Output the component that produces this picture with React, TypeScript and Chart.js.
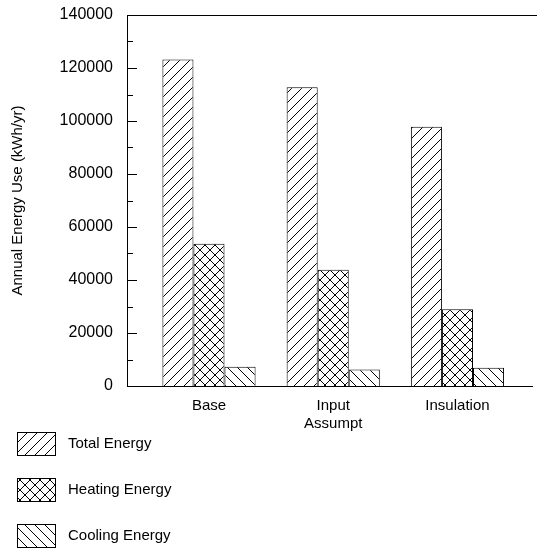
import React, { useEffect, useRef } from "react";
import { Chart, registerables } from "chart.js";

Chart.register(...registerables);

const categories: (string | string[])[] = ["Base", ["Input", "Assumpt"], "Insulation"];
const seriesNames = ["Total Energy", "Heating Energy", "Cooling Energy"];
const totalEnergy = [123200, 112700, 97800];
const heatingEnergy = [53700, 43900, 29000];
const coolingEnergy = [7300, 6200, 6900];
const yTicks = [0, 20000, 40000, 60000, 80000, 100000, 120000, 140000];
const yMinorStep = 10000;

const FONT = "'Liberation Sans', Arial, sans-serif";

type Kind = "fwd" | "cross" | "back";

function makePattern(ctx: CanvasRenderingContext2D, kind: Kind): CanvasPattern {
  const s = 10;
  const c = document.createElement("canvas");
  c.width = s;
  c.height = s;
  const g = c.getContext("2d")!;
  g.fillStyle = "#fff";
  g.fillRect(0, 0, s, s);
  g.strokeStyle = "#000";
  g.lineWidth = 1;
  const fwd = () => {
    g.beginPath();
    g.moveTo(-1, s + 1);
    g.lineTo(s + 1, -1);
    g.moveTo(-1, 1);
    g.lineTo(1, -1);
    g.moveTo(s - 1, s + 1);
    g.lineTo(s + 1, s - 1);
    g.stroke();
  };
  const back = () => {
    g.beginPath();
    g.moveTo(-1, -1);
    g.lineTo(s + 1, s + 1);
    g.moveTo(s - 1, -1);
    g.lineTo(s + 1, 1);
    g.moveTo(-1, s - 1);
    g.lineTo(1, s + 1);
    g.stroke();
  };
  if (kind === "fwd") fwd();
  else if (kind === "back") back();
  else {
    fwd();
    back();
  }
  return ctx.createPattern(c, "repeat")!;
}

export default function App() {
  const ref = useRef<HTMLCanvasElement | null>(null);

  useEffect(() => {
    const canvas = ref.current!;
    const ctx = canvas.getContext("2d")!;
    const patterns = [makePattern(ctx, "fwd"), makePattern(ctx, "cross"), makePattern(ctx, "back")];
    const series = [totalEnergy, heatingEnergy, coolingEnergy];

    const decorations = {
      id: "decorations",
      afterDraw(chart: any) {
        const c = chart.ctx as CanvasRenderingContext2D;
        const area = chart.chartArea;
        const y = chart.scales.y;
        c.save();
        c.strokeStyle = "#000";
        c.lineWidth = 1;
        // inward tick marks
        for (let v = 0; v <= 140000; v += yMinorStep) {
          const py = Math.round(y.getPixelForValue(v)) + 0.5;
          const major = v % 20000 === 0;
          c.beginPath();
          c.moveTo(area.left, py);
          c.lineTo(area.left + (major ? 10 : 6), py);
          c.stroke();
        }
        // top line
        c.beginPath();
        const ty = Math.round(y.getPixelForValue(140000)) + 0.5;
        c.moveTo(area.left, ty);
        c.lineTo(chart.width, ty);
        c.stroke();
        // legend
        c.font = `15px ${FONT}`;
        c.textBaseline = "middle";
        c.textAlign = "left";
        c.fillStyle = "#000";
        seriesNames.forEach((name, i) => {
          const bx = 17.5;
          const by = 432.5 + 46 * i;
          c.fillStyle = patterns[i];
          c.fillRect(bx, by, 38, 23);
          c.strokeRect(bx, by, 38, 23);
          c.fillStyle = "#000";
          c.fillText(name, 68, by + 11.5);
        });
        c.restore();
      },
    };

    const chart = new Chart(ctx, {
      type: "bar",
      data: {
        datasets: series.map((vals, i) => ({
          label: seriesNames[i],
          data: vals.map((v, j) => ({ x: j + 1, y: v })),
          backgroundColor: patterns[i],
          borderColor: "#000",
          borderWidth: 1,
          categoryPercentage: 0.75,
          barPercentage: 1,
        })),
      },
      options: {
        animation: false,
        responsive: false,
        devicePixelRatio: 1,
        layout: { padding: { top: 15, right: 5, bottom: 104, left: 0 } },
        plugins: {
          legend: { display: false },
          tooltip: { enabled: false },
        },
        scales: {
          x: {
            type: "linear",
            min: 0.34,
            max: 3.6,
            offset: false,
            grid: { display: false, drawTicks: false },
            border: { display: true, color: "#000", width: 1 },
            afterBuildTicks: (scale: any) => {
              scale.ticks = categories.map((_, i) => ({ value: i + 1 }));
            },
            afterFit: (scale: any) => {
              scale.paddingLeft = 0;
              scale.paddingRight = 0;
            },
            ticks: {
              autoSkip: false,
              maxRotation: 0,
              padding: 11,
              color: "#000",
              font: { family: FONT, size: 15 },
              callback: (v: any) => categories[Number(v) - 1] as any,
            },
          },
          y: {
            type: "linear",
            min: 0,
            max: 140000,
            grid: { display: false, drawTicks: false },
            border: { display: true, color: "#000", width: 1 },
            afterBuildTicks: (scale: any) => {
              scale.ticks = yTicks.map((v) => ({ value: v }));
            },
            afterFit: (scale: any) => {
              scale.width = 127;
              scale.paddingTop = 0;
              scale.paddingBottom = 0;
            },
            ticks: {
              padding: 14,
              color: "#000",
              font: { family: FONT, size: 16 },
              callback: (v: any) => String(v),
            },
            title: {
              display: true,
              text: "Annual Energy Use (kWh/yr)",
              color: "#000",
              font: { family: FONT, size: 15 },
              padding: { top: 9, bottom: 0 },
            },
          },
        },
      },
      plugins: [decorations],
    });
    return () => chart.destroy();
  }, []);

  return (
    <canvas
      ref={ref}
      width={537}
      height={548}
      style={{ position: "absolute", left: 0, top: 0, display: "block", width: 537, height: 548 }}
    />
  );
}
